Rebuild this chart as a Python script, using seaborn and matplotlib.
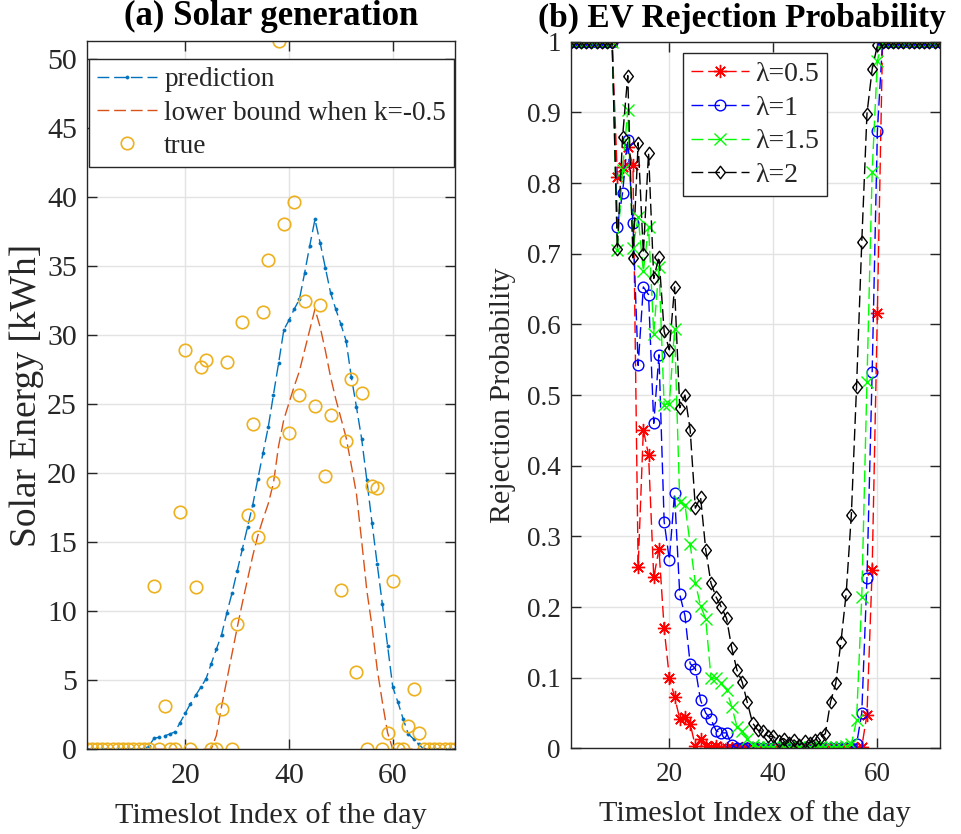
import numpy as np
import matplotlib
matplotlib.use("Agg")
import matplotlib.pyplot as plt
import seaborn as sns

# ---------------- data ----------------
slots = np.arange(1, 73)

solar_pred = [0, 0, 0, 0, 0, 0, 0, 0, 0, 0, 0, 0, 0.24, 0.8, 0.87, 0.97, 1.1, 1.26,
              1.93, 2.6, 3.3, 3.9, 4.5, 5.1, 6.2, 7.25, 8.3, 9.86, 11.3, 12.9, 14.5,
              16.1, 17.7, 19.6, 21.5, 23.35, 25.7, 28.0, 30.4, 31.1, 31.9, 32.6, 34.5,
              36.5, 38.4, 36.7, 34.9, 33.1, 31.9, 30.8, 29.6, 27.0, 24.8, 22.5, 19.5,
              16.4, 13.4, 10.5, 7.5, 4.5, 3.4, 2.2, 1.1, 0.75, 0.36, 0, 0, 0, 0, 0, 0, 0]

solar_lower = [0, 0, 0, 0, 0, 0, 0, 0, 0, 0, 0, 0, 0, 0, 0, 0, 0, 0, 0, 0, 0, 0, 0,
               0, 0, 1.0, 3.1, 5.0, 6.9, 8.8, 10.6, 12.3, 14.0, 15.5, 16.7, 17.8, 19.3,
               22.0, 23.9, 25.1, 26.3, 27.4, 28.9, 30.4, 31.9, 30.6, 28.9, 27.0, 25.4,
               24.0, 22.6, 20.6, 18.5, 15.1, 11.5, 8.9, 5.8, 3.4, 1.2, 0, 0, 0, 0, 0, 0,
               0, 0, 0, 0, 0, 0, 0]

solar_true = [0, 0, 0, 0, 0, 0, 0, 0, 0, 0, 0, 0, 0, 11.86, 0, 3.16, 0, 0, 17.2, 28.9,
              0, 11.76, 27.7, 28.2, 0, 0, 2.94, 28.1, 0, 9.08, 31.0, 16.98, 23.6, 15.4,
              31.7, 35.46, 19.37, 51.3, 38.04, 22.9, 39.66, 25.7, 32.5, np.nan, 24.9,
              32.2, 19.78, 24.25, np.nan, 11.57, 22.36, 26.8, 5.62, 25.8, 0, 19.06,
              18.96, 0, 1.18, 12.2, 0, 0, 1.71, 4.39, 1.18, 0, 0, 0, 0, 0, 0, 0]

rej_l05 = [1, 1, 1, 1, 1, 1, 1, 1, 1, 0.809, 0.823, 0.851, 0.825, 0.257, 0.451, 0.415,
           0.242, 0.282, 0.170, 0.100, 0.073, 0.042, 0.045, 0.035, 0.003, 0.014, 0.004,
           0.002, 0.003, 0.001, 0, 0, 0, 0, 0, 0, 0, 0, 0, 0, 0, 0, 0, 0, 0, 0, 0, 0,
           0, 0, 0, 0, 0, 0, 0, 0.001, 0.002, 0.048, 0.253, 0.616, 1, 1, 1, 1, 1, 1, 1,
           1, 1, 1, 1, 1]

rej_l1 = [1, 1, 1, 1, 1, 1, 1, 1, 1, 0.738, 0.786, 0.861, 0.743, 0.542, 0.653, 0.642,
          0.460, 0.557, 0.321, 0.267, 0.361, 0.218, 0.188, 0.120, 0.113, 0.068, 0.050,
          0.041, 0.025, 0.022, 0.022, 0.005, 0, 0, 0, 0, 0, 0, 0, 0, 0, 0, 0, 0, 0, 0,
          0, 0, 0, 0, 0, 0, 0, 0, 0, 0.006, 0.050, 0.241, 0.532, 0.873, 1, 1, 1, 1, 1,
          1, 1, 1, 1, 1, 1, 1]

rej_l15 = [1, 1, 1, 1, 1, 1, 1, 1, 1, 0.705, 0.818, 0.903, 0.708, 0.752, 0.675, 0.738,
           0.587, 0.681, 0.486, 0.488, 0.593, 0.349, 0.345, 0.289, 0.234, 0.202, 0.183,
           0.100, 0.099, 0.092, 0.083, 0.059, 0.031, 0.024, 0.014, 0.005, 0.002, 0.002,
           0.002, 0.002, 0.002, 0.002, 0.002, 0.002, 0.002, 0.002, 0.002, 0.002, 0.002,
           0.002, 0.002, 0.002, 0.002, 0.003, 0.006, 0.040, 0.214, 0.519, 0.816, 0.973,
           1, 1, 1, 1, 1, 1, 1, 1, 1, 1, 1, 1]

rej_l2 = [1, 1, 1, 1, 1, 1, 1, 1, 1, 0.707, 0.865, 0.952, 0.694, 0.857, 0.700, 0.843,
          0.665, 0.696, 0.590, 0.564, 0.653, 0.482, 0.500, 0.451, 0.340, 0.356, 0.281,
          0.234, 0.214, 0.200, 0.184, 0.142, 0.111, 0.094, 0.065, 0.036, 0.026, 0.024,
          0.017, 0.017, 0.010, 0.014, 0.008, 0.012, 0.005, 0.010, 0.008, 0.012, 0.015,
          0.021, 0.066, 0.092, 0.151, 0.219, 0.331, 0.512, 0.716, 0.898, 0.961, 0.995,
          1, 1, 1, 1, 1, 1, 1, 1, 1, 1, 1, 1]

rej_labels = ["λ=0.5", "λ=1", "λ=1.5", "λ=2"]
xticks = [20, 40, 60]

# ---------------- style ----------------
sns.set_theme(style="whitegrid")
plt.rcParams["font.family"] = ["Liberation Serif", "DejaVu Serif"]
plt.rcParams["lines.dashed_pattern"] = [8.5, 3.5]
plt.rcParams["axes.linewidth"] = 1.0

INK = "#262626"

fig = plt.figure(figsize=(9.61, 8.34), dpi=100)
ax1 = fig.add_axes([0.0902, 0.1016, 0.3833, 0.8496])
ax2 = fig.add_axes([0.5937, 0.1026, 0.3842, 0.8474])


def style_axes(ax, ticksize):
    ax.set_facecolor("white")
    for sp in ax.spines.values():
        sp.set_visible(True)
        sp.set_color(INK)
        sp.set_linewidth(1.0)
    ax.grid(True, color="#e3e3e3", linewidth=1.0)
    ax.set_axisbelow(True)
    ax.tick_params(direction="in", length=7, width=1.0, color=INK,
                   top=True, right=True, bottom=True, left=True,
                   labelsize=ticksize, labelcolor=INK)
    ax.tick_params(axis="x", pad=10)
    ax.tick_params(axis="y", pad=7)


def make_legend(ax, anchor, fs, spacing, textpad, hlen):
    leg = ax.legend(loc="upper left", bbox_to_anchor=anchor, borderaxespad=0,
                    fontsize=fs, frameon=True, fancybox=False, framealpha=1,
                    edgecolor=INK, handlelength=hlen, handletextpad=textpad,
                    borderpad=0.3, labelspacing=spacing)
    leg.get_frame().set_linewidth(1.0)
    return leg


# ---------------- (a) solar generation ----------------
sns.lineplot(x=slots, y=solar_pred, ax=ax1, color="#0072BD", linestyle="--",
             linewidth=1.0, marker=".", markersize=4.5, markeredgecolor="#0072BD",
             markerfacecolor="#0072BD", markeredgewidth=0.5, label="prediction")
sns.lineplot(x=slots, y=solar_lower, ax=ax1, color="#D95319", linestyle="--",
             linewidth=1.0, label="lower bound when k=-0.5")
sns.lineplot(x=slots, y=solar_true, ax=ax1, color="#EDB120", linestyle="none",
             marker="o", markersize=9, markerfacecolor="none",
             markeredgecolor="#EDB120", markeredgewidth=1.2, label="true")

style_axes(ax1, 21.5)
ax1.set_xlim(1, 72)
ax1.set_ylim(0, 51.35)
ax1.set_xticks(xticks)
ax1.set_yticks(np.arange(0, 51, 5))
ax1.set_xlabel("Timeslot Index of the day", fontsize=21.8, color=INK, labelpad=9)
ax1.set_ylabel("Solar Energy [kWh]", fontsize=27, color=INK, labelpad=2)
ax1.set_title("(a) Solar generation", fontsize=25, fontweight="bold", pad=11,
              color="black")
make_legend(ax1, (0.007, 0.974), 19.6, 0.3, 0.25, 2.2)

# ---------------- (b) EV rejection probability ----------------
asterisk = (8, 2, 0)
diamond = [(-0.78, 0), (0, 1), (0.78, 0), (0, -1), (-0.78, 0)]
series = [
    (rej_l05, "#FF0000", asterisk, 9.5),
    (rej_l1, "#0000FF", "o", 7.7),
    (rej_l15, "#00FF00", "x", 8.5),
    (rej_l2, "#000000", diamond, 9.0),
]
for (vals, col, mk, ms), lab in zip(series, rej_labels):
    sns.lineplot(x=slots, y=vals, ax=ax2, color=col, linestyle="--", linewidth=1.0,
                 marker=mk, markersize=ms, markerfacecolor="none",
                 markeredgecolor=col, markeredgewidth=1.0, label=lab)

style_axes(ax2, 19.5)
ax2.set_xlim(1, 72)
ax2.set_ylim(0, 1)
yt = np.round(np.arange(0, 1.01, 0.1), 1)
ax2.set_yticks(yt)
ax2.set_yticklabels([f"{v:g}" for v in yt])
ax2.set_xlabel("Timeslot Index of the day", fontsize=21.8, color=INK, labelpad=9)
ax2.set_ylabel("Rejection Probability", fontsize=21.6, color=INK, labelpad=8)
title_b = ax2.set_title("(b) EV Rejection Probability", fontsize=24,
                        fontweight="bold", pad=11, color="black")
title_b.set_x(0.465)
make_legend(ax2, (0.304, 0.984), 20, 0.3, 0.2, 2.1)

fig.savefig("out.png", dpi=100, facecolor="white")
